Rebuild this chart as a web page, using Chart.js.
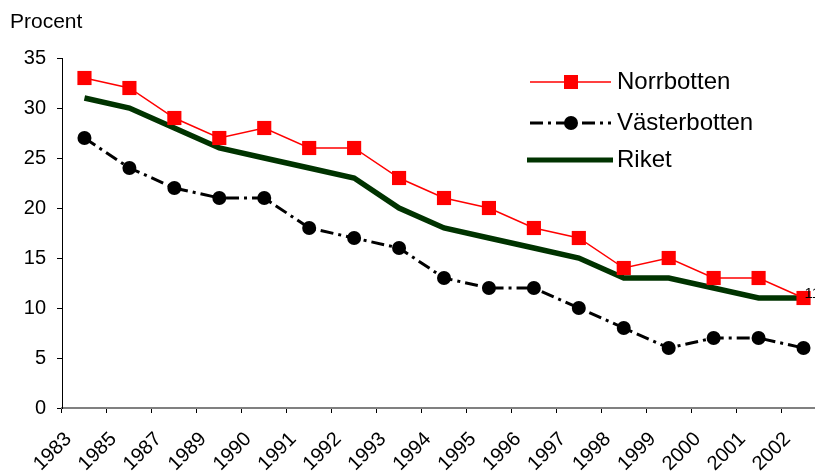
<!DOCTYPE html>
<html>
<head>
<meta charset="utf-8">
<script src="https://cdn.jsdelivr.net/npm/chart.js@4"></script>
<style>
  html, body { margin: 0; padding: 0; background: #fff; overflow: hidden; }
  #wrap { width: 836px; height: 473px; }
</style>
</head>
<body>
<div id="wrap"><canvas id="chart" width="836" height="473"></canvas></div>
<script>
// chart data
const years = ['1983', '1985', '1987', '1989', '1990', '1991', '1992', '1993', '1994',
  '1995', '1996', '1997', '1998', '1999', '2000', '2001', '2002'];
const norrbotten = [33, 32, 29, 27, 28, 26, 26, 23, 21, 20, 18, 17, 14, 15, 13, 13, 11];
const vasterbotten = [27, 24, 22, 21, 21, 18, 17, 16, 13, 12, 12, 10, 8, 6, 7, 7, 6];
const riket = [31, 30, 28, 26, 25, 24, 23, 20, 18, 17, 16, 15, 13, 13, 12, 11, 11];
const yTicks = [0, 5, 10, 15, 20, 25, 30, 35];

const FONT = "Arial, 'Liberation Sans', sans-serif";
const RED = '#ff0000';
const GREEN = '#003300';

// legend in the plot corner, "Procent" header, rotated year labels, last-point label
const extras = {
  id: 'extras',
  afterDraw(chart) {
    const ctx = chart.ctx;
    const xs = chart.scales.x;
    ctx.save();
    ctx.fillStyle = '#000';
    ctx.font = '21px ' + FONT;
    ctx.textBaseline = 'middle';
    ctx.textAlign = 'left';
    ctx.fillText('Procent', 10, 22);

    // value label on last Norrbotten point
    const meta = chart.getDatasetMeta(0);
    const last = meta.data[meta.data.length - 1];
    ctx.font = '15px ' + FONT;
    ctx.fillText(String(norrbotten[norrbotten.length - 1]), last.x + 1, last.y - 4);

    // year labels, rotated 45 degrees
    ctx.font = '20px ' + FONT;
    ctx.textAlign = 'right';
    years.forEach((yr, i) => {
      const px = xs.getPixelForTick(i);
      ctx.save();
      ctx.translate(px - 16, xs.top + 28);
      ctx.rotate(-Math.PI / 4);
      ctx.fillText(yr, 0, 0);
      ctx.restore();
    });
    ctx.textAlign = 'left';

    const rows = [
      { label: 'Norrbotten', y: 82 },
      { label: 'Västerbotten', y: 123 },
      { label: 'Riket', y: 160 }
    ];
    const x0 = 530, x1 = 611, mid = 571;
    // Norrbotten
    ctx.strokeStyle = RED; ctx.lineWidth = 1.5;
    ctx.beginPath(); ctx.moveTo(x0, rows[0].y); ctx.lineTo(x1, rows[0].y); ctx.stroke();
    ctx.fillStyle = RED;
    ctx.fillRect(mid - 7, rows[0].y - 7, 14, 14);
    // Västerbotten
    ctx.strokeStyle = '#000'; ctx.lineWidth = 3;
    ctx.setLineDash([13, 5, 3, 5]);
    ctx.beginPath(); ctx.moveTo(x0, rows[1].y); ctx.lineTo(x1, rows[1].y); ctx.stroke();
    ctx.setLineDash([]);
    ctx.fillStyle = '#000';
    ctx.beginPath(); ctx.arc(mid, rows[1].y, 7, 0, Math.PI * 2); ctx.fill();
    // Riket
    ctx.strokeStyle = GREEN; ctx.lineWidth = 5;
    ctx.beginPath(); ctx.moveTo(x0 - 3, rows[2].y); ctx.lineTo(x1 + 2, rows[2].y); ctx.stroke();

    ctx.fillStyle = '#000';
    ctx.font = '24px ' + FONT;
    rows.forEach(r => ctx.fillText(r.label, 617, r.y));
    ctx.restore();
  }
};

new Chart(document.getElementById('chart'), {
  type: 'line',
  data: {
    labels: years,
    datasets: [
      {
        label: 'Norrbotten',
        data: norrbotten,
        borderColor: RED,
        backgroundColor: RED,
        borderWidth: 1.5,
        pointStyle: 'rect',
        pointRadius: 10,
        pointBorderWidth: 0,
        tension: 0
      },
      {
        label: 'Västerbotten',
        data: vasterbotten,
        borderColor: '#000',
        backgroundColor: '#000',
        borderWidth: 3,
        borderDash: [13, 5, 3, 5],
        pointStyle: 'circle',
        pointRadius: 7,
        pointBorderWidth: 0,
        tension: 0
      },
      {
        label: 'Riket',
        data: riket,
        borderColor: GREEN,
        backgroundColor: GREEN,
        borderWidth: 5.5,
        pointRadius: 0,
        tension: 0
      }
    ]
  },
  options: {
    responsive: false,
    animation: false,
    layout: { padding: { top: 58, right: 0, left: 0, bottom: 0 } },
    plugins: { legend: { display: false }, tooltip: { enabled: false } },
    scales: {
      x: {
        offset: true,
        afterFit: s => { s.height = 65; s.paddingRight = 0; s.paddingLeft = 0; },
        grid: { drawOnChartArea: false, drawTicks: true, tickLength: 5, color: '#000', offset: true },
        border: { display: true, color: '#808080', width: 2 },
        ticks: { display: false, autoSkip: false }
      },
      y: {
        min: 0, max: 35,
        afterFit: s => { s.width = 62; },
        afterBuildTicks: s => { s.ticks = yTicks.map(v => ({ value: v })); },
        grid: { drawOnChartArea: false, drawTicks: true, tickLength: 5, color: '#000' },
        border: { display: true, color: '#000', width: 1 },
        ticks: { color: '#000', font: { family: FONT, size: 20 }, padding: 11 }
      }
    }
  },
  plugins: [extras]
});
</script>
</body>
</html>
